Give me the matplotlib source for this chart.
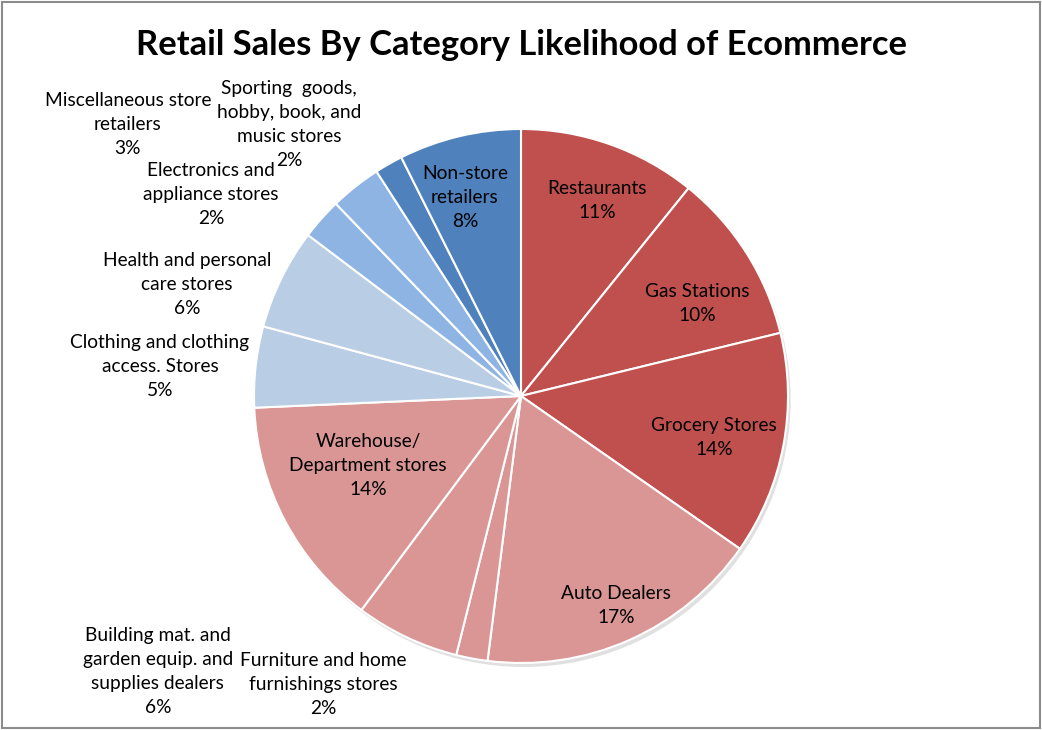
import matplotlib.pyplot as plt
from matplotlib.patches import Circle, Rectangle

categories = [
    "Restaurants",
    "Gas Stations",
    "Grocery Stores",
    "Auto Dealers",
    "Furniture and home\nfurnishings stores",
    "Building mat. and\ngarden equip. and\nsupplies dealers",
    "Warehouse/\nDepartment stores",
    "Clothing and clothing\naccess. Stores",
    "Health and personal\ncare stores",
    "Electronics and\nappliance stores",
    "Miscellaneous store\nretailers",
    "Sporting  goods,\nhobby, book, and\nmusic stores",
    "Non-store\nretailers",
]
shares = [10.8, 10.4, 13.5, 17.3, 1.9, 6.3, 14.1, 4.9, 6.1, 2.5, 3.1, 1.7, 7.4]
pct_labels = ["11%", "10%", "14%", "17%", "2%", "6%", "14%", "5%", "6%", "2%", "3%", "2%", "8%"]

RED = "#C0504D"
PINK = "#D99694"
LBLUE = "#B9CDE5"
MBLUE = "#8EB4E3"
BLUE = "#4F81BD"
colors = [RED, RED, RED, PINK, PINK, PINK, PINK, LBLUE, LBLUE, MBLUE, MBLUE, BLUE, BLUE]

# label centres in pie-radius units (layout only)
label_pos = [
    (0.285, 0.734), (0.659, 0.345), (0.723, -0.154), (0.356, -0.783),
    (-0.742, -1.079), (-1.36, -1.031), (-0.573, -0.262), (-1.352, 0.112),
    (-1.251, 0.419), (-1.161, 0.753), (-1.472, 1.015), (-0.869, 1.017),
    (-0.21, 0.745),
]

plt.rcParams["font.family"] = ["Lato", "DejaVu Sans"]

fig = plt.figure(figsize=(10.42, 7.30), dpi=100)
ax = fig.add_axes([0, 0, 1, 1])
ax.axis("off")

# soft shadow under the pie
ax.add_patch(Circle((0.01, -0.015), 1.0, color="#000000", alpha=0.12, lw=0, zorder=0))

ax.pie(
    shares,
    colors=colors,
    startangle=90,
    counterclock=False,
    radius=1.0,
    wedgeprops=dict(edgecolor="white", linewidth=1.5),
)
ax.set_xlim(-521 / 267, 521 / 267)
ax.set_ylim(-334 / 267, 396 / 267)

for name, pct, (x, y) in zip(categories, pct_labels, label_pos):
    ax.text(x, y, f"{name}\n{pct}", ha="center", va="center",
            fontsize=13.8, linespacing=1.5, color="black")

fig.text(0.5, 1 - 45 / 730, "Retail Sales By Category Likelihood of Ecommerce",
         ha="center", va="center", fontsize=24.8, fontweight="bold")

fig.patches.append(Rectangle((0.002, 0.003), 0.996, 0.994, transform=fig.transFigure,
                             fill=False, edgecolor="#8c8c8c", linewidth=1.5))

fig.savefig("out.png", dpi=100)
